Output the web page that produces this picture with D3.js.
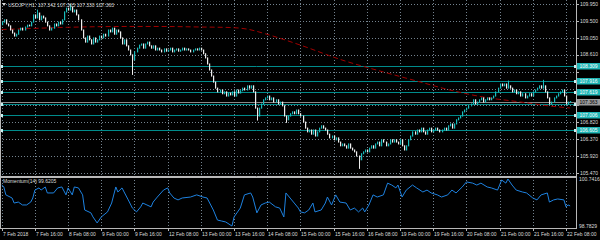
<!DOCTYPE html>
<html>
<head>
<meta charset="utf-8">
<script src="https://cdn.jsdelivr.net/npm/d3@7"></script>
<style>
body { margin:0; background:#000; }
svg { display:block; font-family:"Liberation Sans", Arial, sans-serif; }
text { white-space:pre; }
</style>
</head>
<body>
<script>
/*
* Dati: chiusure orarie USDJPY H1, una per barra
*/
var firstOpen = 109.40;
var closes = [
  109.47,109.53,109.42,109.37,109.26, 109.18,109.10,109.15,109.26,109.31,
  109.26,109.34,109.39,109.37,109.47, 109.66,109.58,109.71,109.53,109.63,
  109.58,109.47,109.37,109.26,109.31, 109.42,109.37,109.47,109.42,109.53,
  109.74,109.84,109.79,109.87,109.74, 109.79,109.66,109.53,109.26,109.05,
  108.94,109.10,109.00,108.89,109.05, 108.94,109.00,109.10,109.05,109.15,
  109.10,109.26,109.21,109.31,109.15, 109.26,109.21,109.05,108.89,109.00,
  108.84,108.73,108.60,108.47,108.68, 108.78,108.86,108.89,108.78,108.89,
  108.94,108.84,108.78,108.84,108.73, 108.78,108.73,108.68,108.76,108.70,
  108.73,108.78,108.68,108.73,108.76, 108.70,108.73,108.78,108.73,108.76,
  108.73,108.68,108.73,108.76,108.73, 108.78,108.73,108.63,108.52,108.36,
  108.20,108.04,107.88,107.72,107.62, 107.67,107.57,107.62,107.51,107.59,
  107.54,107.62,107.51,107.67,107.59, 107.65,107.72,107.67,107.78,107.72,
  107.78,107.62,107.19,106.98,107.19, 107.30,107.41,107.46,107.51,107.41,
  107.46,107.35,107.41,107.30,107.35, 107.25,106.98,106.88,106.98,107.04,
  107.09,107.04,107.14,107.04,106.98, 106.82,106.66,106.56,106.61,106.50,
  106.61,106.45,106.56,106.66,106.72, 106.66,106.61,106.50,106.40,106.45,
  106.35,106.40,106.29,106.19,106.24, 106.19,106.13,106.24,106.13,106.08,
  106.03,105.92,105.82,105.98,106.03, 106.08,106.03,106.13,106.19,106.13,
  106.24,106.29,106.19,106.35,106.29, 106.19,106.24,106.35,106.29,106.35,
  106.29,106.24,106.35,106.19,106.08, 106.19,106.35,106.45,106.56,106.50,
  106.61,106.56,106.66,106.56,106.50, 106.61,106.66,106.56,106.61,106.66,
  106.61,106.56,106.61,106.66,106.61, 106.72,106.77,106.66,106.77,106.88,
  106.93,106.98,107.09,107.14,107.19, 107.25,107.30,107.41,107.30,107.35,
  107.41,107.46,107.35,107.41,107.46, 107.41,107.46,107.51,107.62,107.72,
  107.83,107.78,107.83,107.72,107.78, 107.72,107.62,107.67,107.57,107.62,
  107.51,107.57,107.46,107.51,107.57, 107.51,107.62,107.67,107.72,107.78,
  107.72,107.78,107.62,107.46,107.30, 107.35,107.46,107.51,107.57,107.62,
  107.67,107.51,107.30,107.35,107.363
];

// ombre lunghe (barra, prezzo raggiunto dall'ombra)
var spikeBars   = [17, 33, 63, 123, 137, 172, 244, 261];
var spikePrices = [109.80, 109.95, 108.07, 106.86, 106.80, 105.58, 107.92, 107.94];

// media mobile (linea rossa tratteggiata)
var maBars   = [0, 14, 28, 38, 57, 76, 96, 110, 118, 129, 144, 164, 184, 200, 216, 232, 250, 264, 274];
var maValues = [109.274, 109.300, 109.327, 109.340, 109.354, 109.354, 109.340, 109.327, 109.287,
                109.128, 108.860, 108.466, 108.148, 107.909, 107.671, 107.485, 107.353, 107.247, 107.194];

// Momentum(14)
var momBars = [0,1,2,5,6,8,10,12,14,15,16,18,19,21,22,25,27,29,31,32,34,35,37,39,40,43,44,46,48,51,53,
  55,56,58,59,61,63,65,67,68,70,72,73,75,78,80,81,83,85,87,91,94,97,99,102,104,106,108,111,112,115,117,
  120,121,123,125,127,129,132,134,136,137,139,141,143,144,146,148,150,151,154,156,157,159,161,163,166,
  168,170,172,174,175,177,179,181,184,186,188,190,191,193,195,198,200,203,205,207,210,212,215,217,219,
  222,224,227,229,231,234,236,239,241,243,244,246,248,251,253,256,258,260,263,264,266,268,271,272,273,274];
var momValues = [100.49,100.42,100.08,99.95,99.74,99.78,99.66,99.66,99.78,99.95,100.28,100.37,100.28,
  100.41,100.16,100.16,100.37,100.41,100.08,100.37,100.08,100.41,100.37,100.08,99.45,99.33,99.16,98.91,
  99.16,99.37,99.74,100.41,100.20,100.37,100.20,99.87,99.53,99.37,99.58,99.74,99.66,99.58,99.78,99.99,
  100.28,100.37,100.16,99.95,99.87,99.95,99.99,100.08,99.99,99.95,99.45,99.03,98.99,98.95,98.7829,99.16,
  99.53,100.08,100.16,99.99,99.33,99.66,99.74,99.78,99.58,99.53,99.16,100.16,99.95,99.74,99.53,99.37,
  99.33,99.45,99.74,99.37,99.45,99.74,99.99,99.66,100.08,99.78,99.74,99.45,99.53,99.37,99.53,99.37,
  99.66,100.08,99.99,100.08,100.57,100.49,100.37,100.49,99.99,100.28,100.49,100.37,100.20,100.28,100.16,
  100.08,99.99,100.08,100.28,100.16,100.41,100.62,100.57,100.49,100.57,100.41,100.37,100.28,100.70,
  100.57,100.7416,100.49,100.28,100.20,100.16,99.95,99.87,100.08,100.16,99.78,99.87,99.91,99.87,99.58,
  99.66,99.6205];

// livelli orizzontali disegnati sul grafico (l'ultimo resta senza etichetta, coperta dal bid)
var levels = [108.309, 107.916, 107.619, 107.006, 106.605];
var levelsNoLabel = [107.308];

// etichette degli assi
var priceTicks = [109.950, 109.500, 109.050, 108.610, 108.160, 107.710, 107.260, 106.820, 106.370, 105.920, 105.470];
var momTicks = [100.7416, 98.7829];
var timeLabels = ["7 Feb 2018","7 Feb 16:00","8 Feb 08:00","9 Feb 00:00","9 Feb 16:00","12 Feb 08:00",
  "13 Feb 00:00","13 Feb 16:00","14 Feb 08:00","15 Feb 00:00","15 Feb 16:00","16 Feb 08:00",
  "19 Feb 00:00","19 Feb 16:00","20 Feb 08:00","21 Feb 00:00","21 Feb 16:00","22 Feb 08:00"];
var barsPerLabel = 16;

var title = "USDJPY,H1  107.342 107.365 107.330 107.363";
var momTitle = "Momentum(14) 99.6205";

/*
* svg e scale
*/
var width = 600, height = 240;
var plotRight = 576;
var mainBottom = 176;
var momTop = 177, momBottom = 228;

var svg = d3.select("body").append("svg")
    .attr("width", width)
    .attr("height", height);

svg.append("rect").attr("width", width).attr("height", height).attr("fill", "#000");

var x = d3.scaleLinear().domain([0, (timeLabels.length - 1) * barsPerLabel]).range([1.7, 566]);
var y = d3.scaleLinear().domain([105.470, 109.950]).range([173, 4]);
var yMom = d3.scaleLinear().domain([98.7829, 100.7416]).range([226, 179]);

var gridColor = "#74838f";
var textColor = "#dcdcdc";
var fontSize = "5px";
var bullColor = "#19bcbc", bearColor = "#eeeeee";

/*
* griglia tratteggiata
*/
var grid = svg.append("g");
timeLabels.forEach(function(t, i) {
    var gx = Math.round(x(i * barsPerLabel)) + 0.5;
    grid.append("line").attr("x1", gx).attr("x2", gx).attr("y1", 0).attr("y2", mainBottom)
        .attr("stroke", gridColor).attr("stroke-dasharray", "1,2");
    grid.append("line").attr("x1", gx).attr("x2", gx).attr("y1", momTop).attr("y2", momBottom)
        .attr("stroke", gridColor).attr("stroke-dasharray", "1,2");
});
priceTicks.forEach(function(p) {
    var gy = Math.round(y(p)) + 0.5;
    grid.append("line").attr("x1", 0).attr("x2", plotRight).attr("y1", gy).attr("y2", gy)
        .attr("stroke", gridColor).attr("stroke-dasharray", "1,2");
});

/*
* livelli orizzontali (teal) e linea del bid
*/
var lv = svg.append("g");
levels.concat(levelsNoLabel).forEach(function(p) {
    var ly = Math.round(y(p)) + 0.5;
    lv.append("line").attr("x1", 0).attr("x2", plotRight).attr("y1", ly).attr("y2", ly)
        .attr("stroke", "#008b8b").attr("stroke-width", 1);
    lv.append("rect").attr("x", 0).attr("y", ly - 1.5).attr("width", 3).attr("height", 3).attr("fill", "#c8f0f0");
    lv.append("rect").attr("x", plotRight - 2).attr("y", ly - 1.5).attr("width", 3).attr("height", 3).attr("fill", "#c8f0f0");
});
var lastClose = closes[closes.length - 1];
var bidY = Math.round(y(lastClose)) + 0.5;
lv.append("line").attr("x1", 0).attr("x2", plotRight).attr("y1", bidY).attr("y2", bidY)
    .attr("stroke", "#8a8a8a");

/*
* media mobile
*/
var maLine = d3.line()
    .x(function(d) { return x(d[0]); })
    .y(function(d) { return y(d[1]); })
    .curve(d3.curveMonotoneX);
svg.append("path")
    .datum(d3.zip(maBars, maValues))
    .attr("d", maLine)
    .attr("fill", "none")
    .attr("stroke", "#a00000")
    .attr("stroke-width", 1)
    .attr("stroke-dasharray", "5,3");

/*
* candele
*/
var candles = closes.map(function(c, i) {
    var o = i === 0 ? firstOpen : closes[i - 1];
    var h = Math.max(o, c), l = Math.min(o, c);
    var k = spikeBars.indexOf(i);
    if (k >= 0) { h = Math.max(h, spikePrices[k]); l = Math.min(l, spikePrices[k]); }
    return {i: i, o: o, c: c, h: h, l: l};
});

var cg = svg.append("g");
cg.selectAll("line.wick").data(candles).enter().append("line")
    .attr("class", "wick")
    .attr("x1", function(d) { return Math.round(x(d.i)) + 0.5; })
    .attr("x2", function(d) { return Math.round(x(d.i)) + 0.5; })
    .attr("y1", function(d) { return y(d.h); })
    .attr("y2", function(d) { return y(d.l); })
    .attr("stroke", function(d) { return d.c >= d.o ? bullColor : bearColor; });
cg.selectAll("rect.body").data(candles).enter().append("rect")
    .attr("class", "body")
    .attr("x", function(d) { return Math.round(x(d.i)); })
    .attr("y", function(d) { return y(Math.max(d.o, d.c)) - 0.5; })
    .attr("width", 1.2)
    .attr("height", function(d) { return Math.max(1, Math.abs(y(d.o) - y(d.c)) + 1); })
    .attr("fill", function(d) { return d.c >= d.o ? bullColor : bearColor; });

/*
* momentum
*/
var momLine = d3.line()
    .x(function(d) { return x(d[0]); })
    .y(function(d) { return yMom(d[1]); });
svg.append("path")
    .datum(d3.zip(momBars, momValues))
    .attr("d", momLine)
    .attr("fill", "none")
    .attr("stroke", "#1e82e0")
    .attr("stroke-width", 1);

/*
* cornici dei pannelli
*/
svg.append("line").attr("x1", plotRight + 0.5).attr("x2", plotRight + 0.5).attr("y1", 0).attr("y2", momBottom + 1)
    .attr("stroke", "#b8b8b8");
svg.append("line").attr("x1", 0).attr("x2", plotRight).attr("y1", mainBottom + 0.5).attr("y2", mainBottom + 0.5)
    .attr("stroke", "#b8b8b8");
svg.append("rect").attr("x", 0.5).attr("y", momTop + 0.5).attr("width", plotRight).attr("height", momBottom - momTop)
    .attr("fill", "none").attr("stroke", "#b8b8b8");
svg.append("line").attr("x1", 0.5).attr("x2", 0.5).attr("y1", 0).attr("y2", mainBottom)
    .attr("stroke", "#b8b8b8");

/*
* etichette asse dei prezzi (quelle coperte dai riquadri dei livelli non si vedono)
*/
var boxPrices = levels.concat([lastClose]);
var axisG = svg.append("g").attr("font-size", fontSize).attr("fill", textColor);
priceTicks.forEach(function(p) {
    var ty = y(p);
    axisG.append("line").attr("x1", plotRight).attr("x2", plotRight + 3).attr("y1", Math.round(ty) + 0.5).attr("y2", Math.round(ty) + 0.5)
        .attr("stroke", "#b8b8b8");
    var hidden = boxPrices.some(function(b) { return Math.abs(y(b) - ty) < 6; });
    if (!hidden) axisG.append("text").attr("x", plotRight + 4).attr("y", ty + 1.8).text(p.toFixed(3));
});

// etichette colorate dei livelli
boxPrices.forEach(function(p, i) {
    var ty = Math.round(y(p));
    var isBid = i === levels.length;
    axisG.append("rect").attr("x", plotRight + 1).attr("y", ty - 3).attr("width", 23).attr("height", 6.5)
        .attr("fill", isBid ? "#9a9a9a" : "#1fb5b5");
    axisG.append("text").attr("x", plotRight + 3.5).attr("y", ty + 1.8).attr("fill", isBid ? "#000" : "#fff")
        .text(p.toFixed(3));
});

momTicks.forEach(function(m) {
    axisG.append("text").attr("x", plotRight + 3).attr("y", yMom(m) + 1.8).text(m.toFixed(4));
});

/*
* etichette asse del tempo
*/
timeLabels.forEach(function(t, i) {
    var tx = Math.round(x(i * barsPerLabel)) + 0.5;
    axisG.append("line").attr("x1", tx).attr("x2", tx).attr("y1", momBottom).attr("y2", momBottom + 3)
        .attr("stroke", "#b8b8b8");
    axisG.append("text").attr("x", tx + 0.5).attr("y", 235.5).text(t);
});

/*
* titoli
*/
svg.append("path").attr("d", "M2,3 L6,3 L4,6 Z").attr("fill", "#d8d8d8");
svg.append("text").attr("x", 8).attr("y", 7).attr("font-size", fontSize).attr("fill", textColor).text(title);
svg.append("text").attr("x", 3).attr("y", 183).attr("font-size", fontSize).attr("fill", textColor).text(momTitle);
</script>
</body>
</html>
